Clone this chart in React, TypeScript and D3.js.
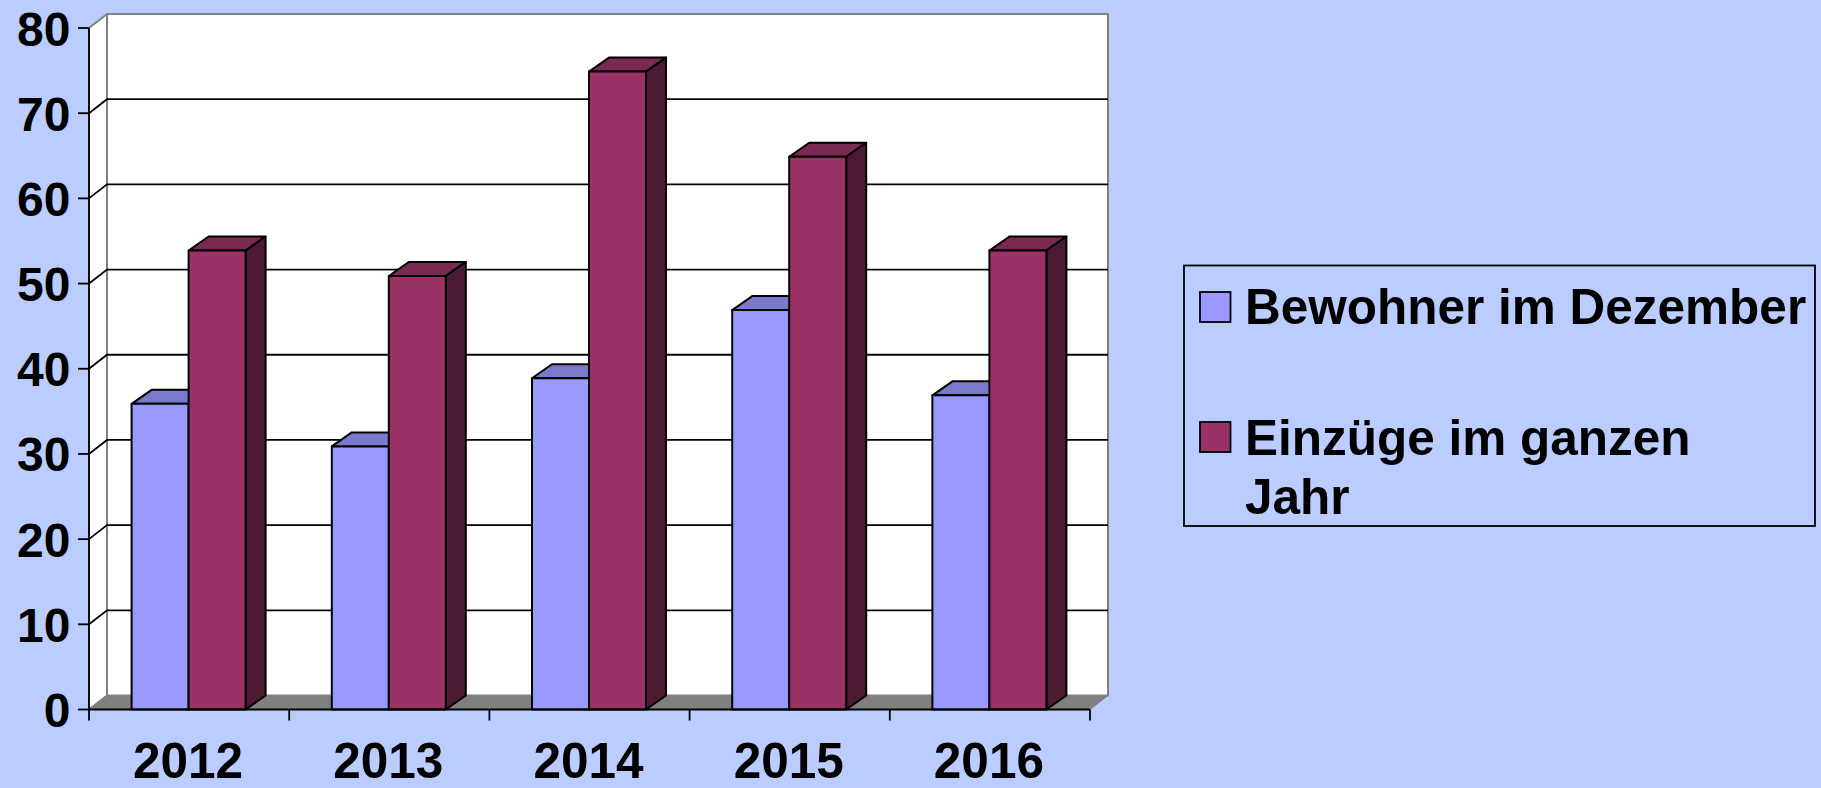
import { useRef, useEffect } from 'react'
import * as d3 from 'd3'

const years = ['2012', '2013', '2014', '2015', '2016']
const residents = [36, 31, 39, 47, 37]
const moveIns = [54, 51, 75, 65, 54]
const yTicks = [0, 10, 20, 30, 40, 50, 60, 70, 80]

const FONT = '"Liberation Sans", Arial, sans-serif'
const width = 1821
const height = 788
const left = 89
const right = 1090
const bottom = 709.5
const top = 28
const depthX = 18
const depthY = 14
const barDepthX = 20
const barDepthY = 14

const App = () => {
  const ref = useRef<SVGSVGElement>(null)

  useEffect(() => {
    const svg = d3.select(ref.current)
    svg.selectAll('*').remove()

    const x = d3.scaleBand().domain(years).range([left, right])
    const y = d3.scaleLinear().domain([0, 80]).range([bottom, top])
    const inner = d3.scaleBand().domain(['a', 'b']).range([0, 114])
    const pad = (x.bandwidth() - 114) / 2 - 0.5

    svg.append('rect').attr('width', width).attr('height', height).attr('fill', '#bbccff')

    // back wall + side wall + floor
    const poly = (pts: number[][], fill: string, stroke: string, sw = 2) =>
      svg.append('path')
        .attr('d', d3.line()(pts as [number, number][]) + 'Z')
        .attr('fill', fill)
        .attr('stroke', stroke)
        .attr('stroke-width', sw)
        .attr('stroke-linejoin', 'round')

    poly([[left + depthX, top - depthY], [right + depthX, top - depthY], [right + depthX, bottom - depthY], [left + depthX, bottom - depthY]], '#ffffff', '#808080', 2)
    poly([[left, top], [left + depthX, top - depthY], [left + depthX, bottom - depthY], [left, bottom]], '#ffffff', '#808080', 2)
    poly([[left, bottom], [left + depthX, bottom - depthY], [right + depthX, bottom - depthY], [right, bottom]], '#808080', '#808080', 1)

    // gridlines
    yTicks.slice(1, -1).forEach((t) => {
      svg.append('path')
        .attr('d', `M${left},${y(t)}L${left + depthX},${y(t) - depthY}L${right + depthX},${y(t) - depthY}`)
        .attr('fill', 'none')
        .attr('stroke', '#000')
        .attr('stroke-width', 1.8)
    })

    // bars
    const drawBar = (x0: number, w: number, v: number, front: string, topC: string, side: string) => {
      const yt = y(v) + 1
      const stroke = '#000'
      poly([[x0, yt], [x0 + barDepthX, yt - barDepthY], [x0 + w + barDepthX, yt - barDepthY], [x0 + w, yt]], topC, stroke)
      poly([[x0 + w, yt], [x0 + w + barDepthX, yt - barDepthY], [x0 + w + barDepthX, bottom - barDepthY], [x0 + w, bottom]], side, stroke)
      poly([[x0, yt], [x0 + w, yt], [x0 + w, bottom], [x0, bottom]], front, stroke)
    }

    years.forEach((yr, i) => {
      const x0 = (x(yr) as number) + pad
      drawBar(x0 + (inner('a') as number), inner.bandwidth(), residents[i], '#9999ff', '#7a7acc', '#4d4d80')
      drawBar(x0 + (inner('b') as number), inner.bandwidth(), moveIns[i], '#993366', '#7a2952', '#4d1a33')
    })

    // axes
    svg.append('path')
      .attr('d', `M${left},${top}V${bottom}H${right}`)
      .attr('fill', 'none')
      .attr('stroke', '#000')
      .attr('stroke-width', 1.8)

    yTicks.forEach((t) => {
      svg.append('line')
        .attr('x1', left - 11).attr('x2', left)
        .attr('y1', y(t)).attr('y2', y(t))
        .attr('stroke', '#000').attr('stroke-width', 1.8)
      svg.append('text')
        .attr('x', 70.5).attr('y', y(t) + 17.5)
        .attr('text-anchor', 'end')
        .attr('font-family', FONT).attr('font-weight', 700).attr('font-size', 48)
        .text(t)
    })

    const xEdges = [...years.map((yr) => x(yr) as number), right]
    xEdges.forEach((e) => {
      svg.append('line')
        .attr('x1', e).attr('x2', e)
        .attr('y1', bottom).attr('y2', bottom + 11)
        .attr('stroke', '#000').attr('stroke-width', 1.8)
    })
    years.forEach((yr) => {
      svg.append('text')
        .attr('x', (x(yr) as number) + x.bandwidth() / 2 - 1)
        .attr('y', 777.5)
        .attr('text-anchor', 'middle')
        .attr('font-family', FONT).attr('font-weight', 700).attr('font-size', 49.5)
        .text(yr)
    })

    // legend
    svg.append('rect')
      .attr('x', 1184).attr('y', 265.5).attr('width', 631).attr('height', 260.5)
      .attr('fill', 'none').attr('stroke', '#000').attr('stroke-width', 1.8)
    const legend = [
      { fill: '#9999ff', sy: 292, lines: [['Bewohner im Dezember', 324]] },
      { fill: '#993366', sy: 422, lines: [['Einzüge im ganzen', 454.5], ['Jahr', 514]] },
    ]
    legend.forEach((l) => {
      svg.append('rect')
        .attr('x', 1200).attr('y', l.sy).attr('width', 30.5).attr('height', 30)
        .attr('fill', l.fill).attr('stroke', '#000').attr('stroke-width', 1.8)
      l.lines.forEach(([s, by]) => {
        svg.append('text')
          .attr('x', 1245).attr('y', by)
          .attr('font-family', FONT).attr('font-weight', 700).attr('font-size', 49.5)
          .text(s as string)
      })
    })
  }, [])

  return <svg ref={ref} width={width} height={height} style={{ position: 'fixed', left: 0, top: 0 }} />
}

export default App
